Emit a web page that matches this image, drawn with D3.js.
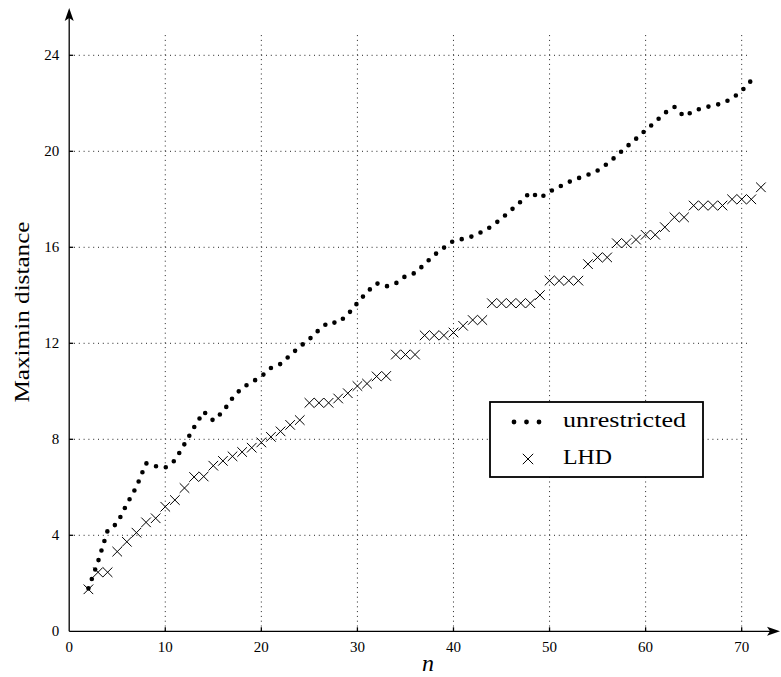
<!DOCTYPE html>
<html>
<head>
<meta charset="utf-8">
<script src="https://cdn.jsdelivr.net/npm/d3@7"></script>
<style>
  html, body { margin: 0; padding: 0; background: #fff; }
  svg { display: block; }
</style>
</head>
<body>
<div id="chart"></div>
<script>
// ── data ────────────────────────────────────────────────────────────────────
const nUnrestricted = d3.range(2, 72);
const unrestricted = [
  1.79, 2.9, 4.2, 4.5, 5.3, 6.02, 7.0, 6.88, 6.82, 7.12,
  7.8, 8.5, 9.15, 8.78, 9.15, 9.72, 10.15, 10.38, 10.62, 10.97,
  11.14, 11.5, 11.86, 12.17, 12.56, 12.88, 12.85, 13.2, 13.68, 14.14,
  14.5, 14.37, 14.5, 14.8, 14.93, 15.3, 15.68, 15.98, 16.27, 16.35,
  16.46, 16.65, 16.88, 17.2, 17.55, 17.9, 18.3, 18.05, 18.32, 18.52,
  18.72, 18.88, 19.02, 19.2, 19.48, 19.82, 20.18, 20.52, 20.88, 21.22,
  21.6, 21.85, 21.45, 21.68, 21.82, 21.9, 22.0, 22.2, 22.52, 22.95
];

const nLHD = d3.range(2, 73);
const lhd = [
  1.75, 2.46, 2.46, 3.32, 3.73, 4.11, 4.54, 4.71, 5.19, 5.47,
  5.97, 6.43, 6.45, 6.9, 7.1, 7.29, 7.47, 7.65, 7.87, 8.1,
  8.33, 8.6, 8.8, 9.52, 9.52, 9.52, 9.7, 9.92, 10.22, 10.32,
  10.62, 10.64, 11.53, 11.53, 11.53, 12.33, 12.33, 12.33, 12.45, 12.73,
  12.97, 12.97, 13.67, 13.67, 13.67, 13.67, 13.67, 14.01, 14.61, 14.61,
  14.61, 14.61, 15.3, 15.58, 15.58, 16.17, 16.17, 16.32, 16.52, 16.52,
  16.84, 17.25, 17.25, 17.74, 17.74, 17.74, 17.74, 18.0, 18.0, 18.0,
  18.5
];

const xTicks = [0, 10, 20, 30, 40, 50, 60, 70];
const yTicks = [0, 4, 8, 12, 16, 20, 24];
const seriesNames = ['unrestricted', 'LHD'];

// ── layout ──────────────────────────────────────────────────────────────────
const W = 781, H = 677;
const FONT = "'Liberation Serif'";

const x = d3.scaleLinear().domain([0, 72]).range([69.2, 760.9]);
const y = d3.scaleLinear().domain([0, 25]).range([631.3, 31.3]);

const svg = d3.select('#chart').append('svg')
  .attr('width', W).attr('height', H)
  .attr('viewBox', `0 0 ${W} ${H}`);

// ── grid (dotted) ───────────────────────────────────────────────────────────
const grid = svg.append('g')
  .attr('stroke', '#222')
  .attr('stroke-width', 1)
  .attr('stroke-dasharray', '1 3.8');

xTicks.filter((t) => t > 0).forEach((t) => {
  grid.append('line')
    .attr('x1', x(t)).attr('x2', x(t))
    .attr('y1', y(0)).attr('y2', y(25));
});
yTicks.filter((t) => t > 0).forEach((t) => {
  grid.append('line')
    .attr('x1', x(0)).attr('x2', x(70.6))
    .attr('y1', y(t)).attr('y2', y(t));
});

// ── axes with arrow tips ────────────────────────────────────────────────────
const axis = svg.append('g').attr('stroke', '#000').attr('stroke-width', 1.3).attr('fill', 'none');
axis.append('line').attr('x1', x(0)).attr('x2', 776).attr('y1', y(0)).attr('y2', y(0));
axis.append('line').attr('x1', x(0)).attr('x2', x(0)).attr('y1', y(0)).attr('y2', 12);

// stealth-like arrow heads
svg.append('path')
  .attr('d', `M780,${y(0)} L767,${y(0) - 4.5} L770,${y(0)} L767,${y(0) + 4.5} Z`)
  .attr('fill', '#000');
svg.append('path')
  .attr('d', `M${x(0)},8 L${x(0) - 4.5},21 L${x(0)},18 L${x(0) + 4.5},21 Z`)
  .attr('fill', '#000');

// ticks
xTicks.filter((t) => t > 0).forEach((t) => {
  axis.append('line').attr('x1', x(t)).attr('x2', x(t)).attr('y1', y(0)).attr('y2', y(0) - 4);
});
yTicks.filter((t) => t > 0).forEach((t) => {
  axis.append('line').attr('x1', x(0)).attr('x2', x(0) + 4).attr('y1', y(t)).attr('y2', y(t));
});

// tick labels
svg.append('g').selectAll('text').data(xTicks).join('text')
  .attr('x', (d) => x(d))
  .attr('y', y(0) + 21)
  .attr('text-anchor', 'middle')
  .style('font-family', FONT)
  .style('font-size', '15px')
  .attr('fill', '#000')
  .text((d) => d);

svg.append('g').selectAll('text').data(yTicks).join('text')
  .attr('x', x(0) - 10)
  .attr('y', (d) => y(d) + 5)
  .attr('text-anchor', 'end')
  .style('font-family', FONT)
  .style('font-size', '15px')
  .attr('fill', '#000')
  .text((d) => d);

// axis titles
svg.append('text')
  .attr('x', 428).attr('y', 671)
  .attr('text-anchor', 'middle')
  .style('font-family', FONT)
  .style('font-style', 'italic')
  .style('font-size', '24px')
  .text('n');

svg.append('text')
  .attr('transform', 'translate(29,312) rotate(-90)')
  .attr('text-anchor', 'middle')
  .style('font-family', FONT)
  .style('font-size', '22px')
  .attr('textLength', 181)
  .attr('lengthAdjust', 'spacingAndGlyphs')
  .text('Maximin distance');

// ── series ──────────────────────────────────────────────────────────────────
const unresPts = nUnrestricted.map((n, i) => [n, unrestricted[i]]);
const lhdPts = nLHD.map((n, i) => [n, lhd[i]]);

const line = d3.line().x((d) => x(d[0])).y((d) => y(d[1]));

svg.append('path')
  .datum(unresPts)
  .attr('d', line)
  .attr('fill', 'none')
  .attr('stroke', '#000')
  .attr('stroke-width', 4.6)
  .attr('stroke-linecap', 'round')
  .attr('stroke-dasharray', '0 10');

const CR = 4.8;
const crossPath = (cx, cy, r) =>
  `M${cx - r},${cy - r}L${cx + r},${cy + r}M${cx - r},${cy + r}L${cx + r},${cy - r}`;

svg.append('g').selectAll('path').data(lhdPts).join('path')
  .attr('d', (d) => crossPath(x(d[0]), y(d[1]), CR))
  .attr('stroke', '#000')
  .attr('stroke-width', 1)
  .attr('fill', 'none');

// ── legend ──────────────────────────────────────────────────────────────────
const lg = svg.append('g');
lg.append('rect')
  .attr('x', 490).attr('y', 402).attr('width', 213).attr('height', 75)
  .attr('fill', '#fff').attr('stroke', '#000').attr('stroke-width', 1.8);

lg.append('line')
  .attr('x1', 514).attr('x2', 540).attr('y1', 422).attr('y2', 422)
  .attr('stroke', '#000').attr('stroke-width', 4.8)
  .attr('stroke-linecap', 'round').attr('stroke-dasharray', '0 12.5');

lg.append('path')
  .attr('d', crossPath(528, 459, 5.2))
  .attr('stroke', '#000').attr('stroke-width', 1).attr('fill', 'none');

lg.selectAll('text.lab').data(seriesNames).join('text')
  .attr('class', 'lab')
  .attr('x', 563)
  .attr('y', (d, i) => (i === 0 ? 427 : 464))
  .style('font-family', FONT)
  .style('font-size', '22px')
  .attr('textLength', (d, i) => (i === 0 ? 123 : 49))
  .attr('lengthAdjust', 'spacingAndGlyphs')
  .text((d) => d);
</script>
</body>
</html>
